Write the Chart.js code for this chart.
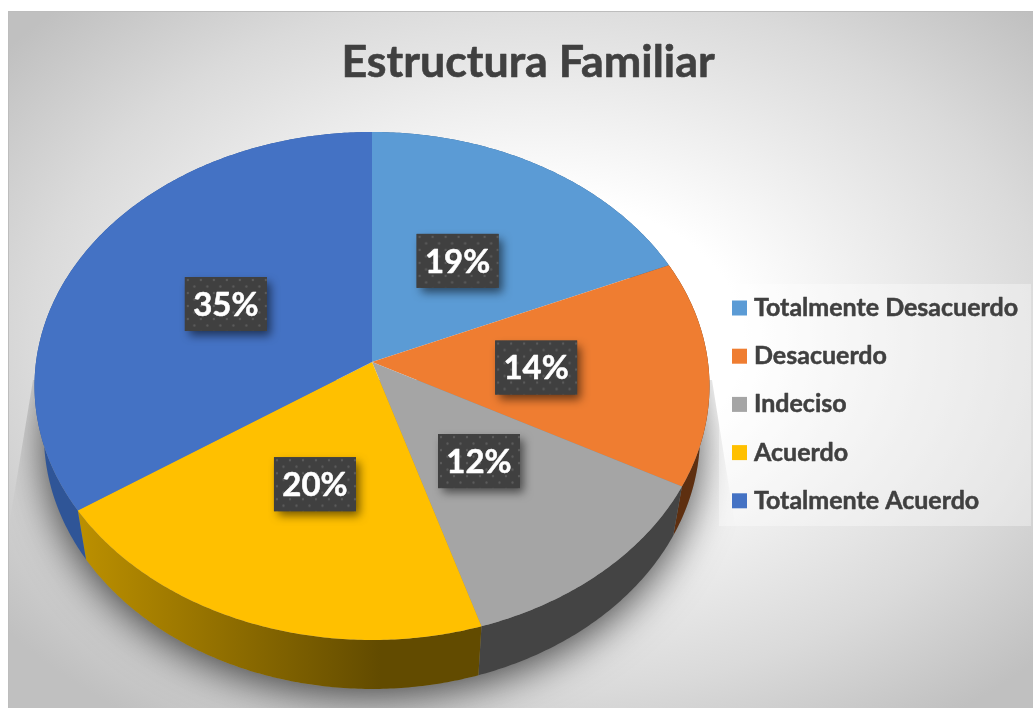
<!DOCTYPE html>
<html>
<head>
<meta charset="utf-8">
<title>Estructura Familiar</title>
<script src="https://cdn.jsdelivr.net/npm/chart.js@4"></script>
<style>
    html, body { margin: 0; padding: 0; background: #fff; }
    #wrap { position: relative; width: 1033px; height: 709px; }
</style>
</head>
<body>
<div id="wrap"><canvas id="pieChart" width="1033" height="709"></canvas></div>
<script>
// Chart data
const chartTitle = 'Estructura Familiar';
const categories = ['Totalmente Desacuerdo', 'Desacuerdo', 'Indeciso', 'Acuerdo', 'Totalmente Acuerdo'];
// the picture only prints them rounded
const percentValues = [18.5, 14.4, 12.4, 20.4, 34.5];

// Colours, same order as the categories
const sliceColors = ['#5B9BD5', '#EF7D31', '#A5A5A5', '#FFC000', '#4472C4'];
const wallColors = [
    ['#2F5F8F', '#2F5F8F'],
    ['#5E2F10', '#5E2F10'],
    ['#444444', '#444444'],
    ['#BC9000', '#624B00'],
    ['#2F5597', '#2F5597']
];
// small manual shifts of the value boxes
const boxNudge = [[2, -1], [-1, 5], [-6, 1], [3, -1], [-7, 2]];

const FONT = 'Lato, "Open Sans", sans-serif';
const TEXT_COLOR = '#404040';

// Perspective of the tilted disc
const TILT = -0.0945;
const X_SCALE = 0.994;
const Y_SCALE = 0.7447;
const WALL_DEPTH = 49;
const WALL_SHRINK = 0.972;

function project(arc, angle) {
    const d = 1 + TILT * Math.sin(angle);
    return {
        x: arc.x + arc.outerRadius * X_SCALE * Math.cos(angle) / d,
        y: arc.y + arc.outerRadius * Y_SCALE * Math.sin(angle) / d
    };
}

function projectBottom(arc, angle) {
    const p = project(arc, angle);
    return { x: arc.x + (p.x - arc.x) * WALL_SHRINK, y: p.y + WALL_DEPTH };
}

function anglesBetween(start, end) {
    const steps = Math.max(2, Math.ceil((end - start) / 0.01));
    const list = [];
    for (let i = 0; i <= steps; i++) list.push(start + (end - start) * i / steps);
    return list;
}

function dotPattern(ctx) {
    const tile = document.createElement('canvas');
    tile.width = 13;
    tile.height = 13;
    const t = tile.getContext('2d');
    t.fillStyle = '#404040';
    t.fillRect(0, 0, 13, 13);
    t.fillStyle = '#5C5C5C';
    t.beginPath();
    t.arc(3, 3, 1.2, 0, Math.PI * 2);
    t.arc(9.5, 9.5, 1.2, 0, Math.PI * 2);
    t.fill();
    return ctx.createPattern(tile, 'repeat');
}

function boldText(ctx, text, x, y, weight) {
    ctx.lineWidth = weight;
    ctx.lineJoin = 'round';
    ctx.strokeStyle = ctx.fillStyle;
    ctx.strokeText(text, x, y);
    ctx.fillText(text, x, y);
}

// Grey panel behind everything
const backgroundPlugin = {
    id: 'panelBackground',
    beforeDraw(chart) {
        const ctx = chart.ctx;
        ctx.save();
        ctx.beginPath();
        ctx.rect(8, 11, 1025, 697);
        ctx.clip();
        ctx.translate(540, 340);
        ctx.scale(680, 470);
        const grad = ctx.createRadialGradient(0, 0, 0, 0, 0, 1);
        grad.addColorStop(0, '#FFFFFF');
        grad.addColorStop(0.3, '#FFFFFF');
        grad.addColorStop(0.75, '#DADADA');
        grad.addColorStop(1, '#C0C0C0');
        ctx.fillStyle = grad;
        ctx.fillRect(-2, -2, 4, 4);
        ctx.restore();

        ctx.fillStyle = '#BDBDBD';
        ctx.fillRect(8, 11, 1025, 1);
        ctx.fillRect(8, 11, 1, 697);
    }
};

// Slices are laid out by the pie controller, this only draws them with depth
const discPlugin = {
    id: 'disc3d',
    beforeDatasetsDraw(chart) {
        const ctx = chart.ctx;
        const arcs = chart.getDatasetMeta(0).data;
        const first = arcs[0];

        // soft shadow under the disc, it has a hard upper edge on both sides
        ctx.save();
        ctx.beginPath();
        ctx.moveTo(33, 380);
        ctx.lineTo(10, 520);
        ctx.lineTo(10, 708);
        ctx.lineTo(1033, 708);
        ctx.lineTo(735, 525);
        ctx.lineTo(712, 380);
        ctx.closePath();
        ctx.clip();
        ctx.shadowColor = 'rgba(0, 0, 0, 0.7)';
        ctx.shadowBlur = 42;
        ctx.shadowOffsetY = 8;
        ctx.fillStyle = '#888';
        ctx.beginPath();
        anglesBetween(0, Math.PI * 2).forEach(a => {
            const p = projectBottom(first, a);
            ctx.lineTo(p.x, p.y);
        });
        ctx.closePath();
        ctx.fill();
        ctx.restore();

        // side walls
        arcs.forEach((arc, i) => {
            const list = anglesBetween(arc.startAngle, arc.endAngle);
            const left = Math.min(...list.map(a => project(arc, a).x));
            const right = Math.max(...list.map(a => project(arc, a).x));
            const grad = ctx.createLinearGradient(left, 0, left + (right - left) * 0.75, 0);
            grad.addColorStop(0, wallColors[i][0]);
            grad.addColorStop(1, wallColors[i][1]);
            ctx.fillStyle = grad;
            ctx.beginPath();
            list.forEach(a => {
                const p = project(arc, a);
                ctx.lineTo(p.x, p.y);
            });
            list.slice().reverse().forEach(a => {
                const p = projectBottom(arc, a);
                ctx.lineTo(p.x, p.y);
            });
            ctx.closePath();
            ctx.fill();
        });

        // top surface
        arcs.forEach((arc, i) => {
            ctx.fillStyle = sliceColors[i];
            ctx.beginPath();
            ctx.moveTo(arc.x, arc.y);
            anglesBetween(arc.startAngle, arc.endAngle).forEach(a => {
                const p = project(arc, a);
                ctx.lineTo(p.x, p.y);
            });
            ctx.closePath();
            ctx.fill();
        });
        return false;
    },
    afterDraw(chart) {
        const ctx = chart.ctx;
        const arcs = chart.getDatasetMeta(0).data;
        const pattern = dotPattern(ctx);

        // value boxes
        arcs.forEach((arc, i) => {
            const outer = project(arc, (arc.startAngle + arc.endAngle) / 2);
            const cx = arc.x + (outer.x - arc.x) * 0.49 + boxNudge[i][0];
            const cy = arc.y + (outer.y - arc.y) * 0.49 - 4.5 + boxNudge[i][1];
            ctx.save();
            ctx.shadowColor = 'rgba(0, 0, 0, 0.55)';
            ctx.shadowBlur = 9;
            ctx.shadowOffsetX = 4;
            ctx.shadowOffsetY = 5;
            ctx.fillStyle = '#404040';
            ctx.fillRect(cx - 41, cy - 27, 82, 54);
            ctx.restore();
            ctx.save();
            ctx.translate(cx - 41, cy - 27);
            ctx.fillStyle = pattern;
            ctx.fillRect(0, 0, 82, 54);
            ctx.restore();
            ctx.fillStyle = '#FFFFFF';
            ctx.font = 'bold 33px ' + FONT;
            ctx.textAlign = 'center';
            ctx.textBaseline = 'middle';
            boldText(ctx, Math.round(chart.data.datasets[0].data[i]) + '%', cx, cy + 1, 0.5);
        });

        // title
        ctx.fillStyle = TEXT_COLOR;
        ctx.font = 'bold 44.8px ' + FONT;
        ctx.textAlign = 'center';
        ctx.textBaseline = 'alphabetic';
        boldText(ctx, chartTitle, 528, 77, 0.6);

        // legend
        ctx.fillStyle = 'rgba(255, 255, 255, 0.35)';
        ctx.fillRect(719, 284, 312, 242);
        ctx.font = 'bold 25px ' + FONT;
        ctx.textAlign = 'left';
        ctx.textBaseline = 'middle';
        chart.data.labels.forEach((label, i) => {
            const y = 308 + i * 48.2;
            ctx.fillStyle = sliceColors[i];
            ctx.fillRect(732, y - 7.5, 15, 15);
            ctx.fillStyle = TEXT_COLOR;
            boldText(ctx, label, 754, y, 0.5);
        });
    }
};

const pieChart = new Chart(document.getElementById('pieChart'), {
    type: 'pie',
    data: {
        labels: categories,
        datasets: [{
            data: percentValues,
            backgroundColor: sliceColors,
            borderWidth: 0
        }]
    },
    options: {
        responsive: false,
        animation: false,
        layout: {
            padding: { left: 34, right: 323, top: 24, bottom: 9 }
        },
        plugins: {
            legend: { display: false },
            title: { display: false },
            tooltip: { enabled: false }
        }
    },
    plugins: [backgroundPlugin, discPlugin]
});
</script>
</body>
</html>
